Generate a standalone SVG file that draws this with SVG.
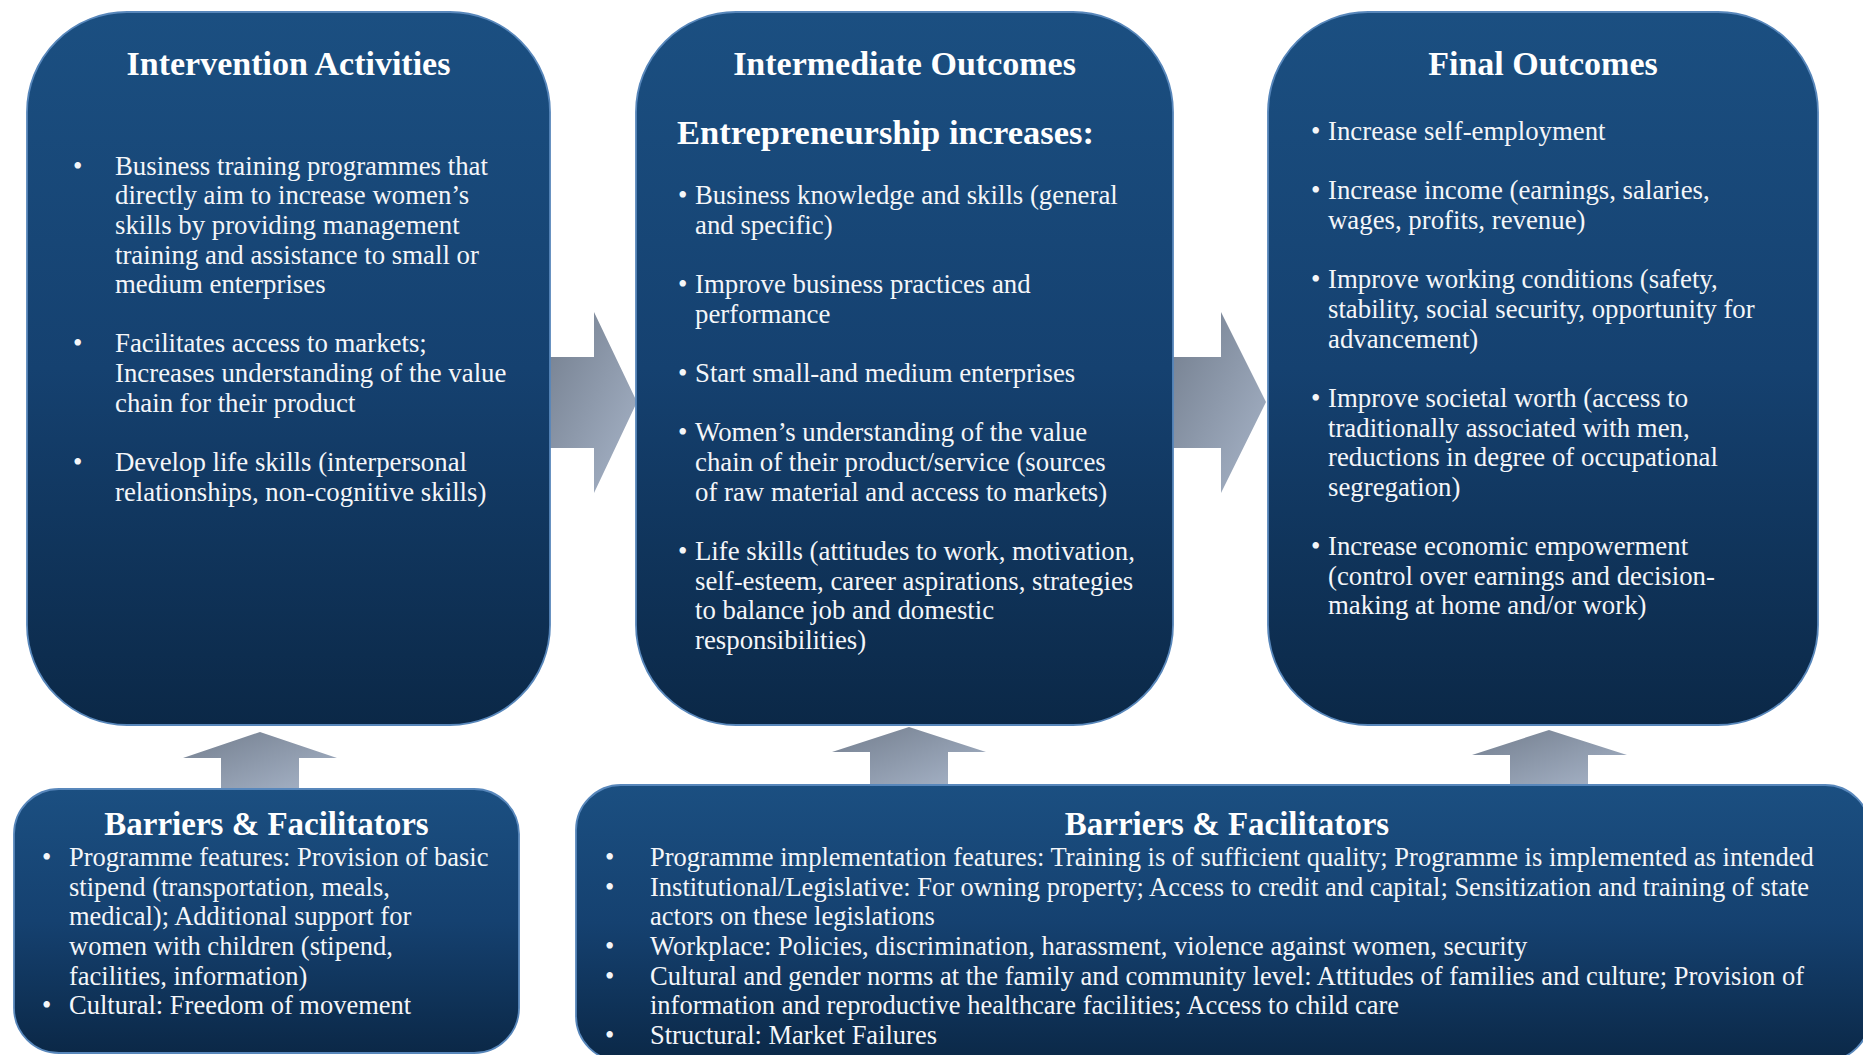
<svg xmlns="http://www.w3.org/2000/svg" width="1863" height="1055" viewBox="0 0 1863 1055">
<defs>
<linearGradient id="boxGrad" x1="0" y1="0" x2="0" y2="1">
<stop offset="0" stop-color="#1b4f81"/>
<stop offset="0.5" stop-color="#154170"/>
<stop offset="1" stop-color="#0b2847"/>
</linearGradient>
<linearGradient id="arrowGrad" x1="0" y1="0" x2="1" y2="1">
<stop offset="0" stop-color="#737e8e"/>
<stop offset="1" stop-color="#a8b5c9"/>
</linearGradient>
<style>
.box{fill:url(#boxGrad);stroke:#5887bb;stroke-width:1.8}
.arrow{fill:url(#arrowGrad)}
.title{font-family:"Liberation Serif","Times New Roman",serif;font-weight:bold;font-size:34px;fill:#ffffff;text-anchor:middle}
.title2{font-family:"Liberation Serif","Times New Roman",serif;font-weight:bold;font-size:33px;fill:#ffffff;text-anchor:middle}
.sub{font-family:"Liberation Serif","Times New Roman",serif;font-weight:bold;font-size:34.5px;fill:#ffffff}
.body{font-family:"Liberation Serif","Times New Roman",serif;font-size:26.8px;fill:#f4f6f9}
.body2{font-family:"Liberation Serif","Times New Roman",serif;font-size:26.5px;fill:#f4f6f9}
</style>
</defs>
<rect width="1863" height="1055" fill="#ffffff"/>

<g id="connectors">
<polygon class="arrow" points="548,357 594,357 594,312 637,402 594,493 594,448 548,448"/>
<polygon class="arrow" points="1173,357 1221,357 1221,312 1266,402 1221,493 1221,448 1173,448"/>
<polygon class="arrow" points="260,732 337,758 299,758 299,790 221,790 221,758 183,758"/>
<polygon class="arrow" points="909,727 986,752 948,752 948,786 870,786 870,752 832,752"/>
<polygon class="arrow" points="1549,730 1627,755 1588,755 1588,786 1510,786 1510,755 1472,755"/>
</g>

<g id="intervention-activities">
<rect class="box" x="27" y="12" width="523" height="713" rx="100" ry="100"/>
<text class="title" x="288.5" y="75">Intervention Activities</text>
<text class="body" x="73" y="174.5">•</text>
<text class="body" x="115" y="174.5">Business training programmes that</text>
<text class="body" x="115" y="204.2">directly aim to increase women’s</text>
<text class="body" x="115" y="233.8">skills by providing management</text>
<text class="body" x="115" y="263.5">training and assistance to small or</text>
<text class="body" x="115" y="293.1">medium enterprises</text>
<text class="body" x="73" y="352.4">•</text>
<text class="body" x="115" y="352.4">Facilitates access to markets;</text>
<text class="body" x="115" y="382.1">Increases understanding of the value</text>
<text class="body" x="115" y="411.7">chain for their product</text>
<text class="body" x="73" y="471">•</text>
<text class="body" x="115" y="471">Develop life skills (interpersonal</text>
<text class="body" x="115" y="500.7">relationships, non-cognitive skills)</text>
</g>

<g id="intermediate-outcomes">
<rect class="box" x="636" y="12" width="537" height="713" rx="100" ry="100"/>
<text class="title" x="904.5" y="75">Intermediate Outcomes</text>
<text class="sub" x="677" y="144">Entrepreneurship increases:</text>
<text class="body" x="678" y="204.2">•</text>
<text class="body" x="695" y="204.2">Business knowledge and skills (general</text>
<text class="body" x="695" y="233.8">and specific)</text>
<text class="body" x="678" y="293.1">•</text>
<text class="body" x="695" y="293.1">Improve business practices and</text>
<text class="body" x="695" y="322.8">performance</text>
<text class="body" x="678" y="382.1">•</text>
<text class="body" x="695" y="382.1">Start small-and medium enterprises</text>
<text class="body" x="678" y="441.4">•</text>
<text class="body" x="695" y="441.4">Women’s understanding of the value</text>
<text class="body" x="695" y="471">chain of their product/service (sources</text>
<text class="body" x="695" y="500.7">of raw material and access to markets)</text>
<text class="body" x="678" y="560">•</text>
<text class="body" x="695" y="560">Life skills (attitudes to work, motivation,</text>
<text class="body" x="695" y="589.6">self-esteem, career aspirations, strategies</text>
<text class="body" x="695" y="619.3">to balance job and domestic</text>
<text class="body" x="695" y="648.9">responsibilities)</text>
</g>

<g id="final-outcomes">
<rect class="box" x="1268" y="12" width="550" height="713" rx="100" ry="100"/>
<text class="title" x="1543" y="75">Final Outcomes</text>
<text class="body" x="1311" y="140">•</text>
<text class="body" x="1328" y="140">Increase self-employment</text>
<text class="body" x="1311" y="199.3">•</text>
<text class="body" x="1328" y="199.3">Increase income (earnings, salaries,</text>
<text class="body" x="1328" y="229">wages, profits, revenue)</text>
<text class="body" x="1311" y="288.3">•</text>
<text class="body" x="1328" y="288.3">Improve working conditions (safety,</text>
<text class="body" x="1328" y="317.9">stability, social security, opportunity for</text>
<text class="body" x="1328" y="347.6">advancement)</text>
<text class="body" x="1311" y="406.9">•</text>
<text class="body" x="1328" y="406.9">Improve societal worth (access to</text>
<text class="body" x="1328" y="436.5">traditionally associated with men,</text>
<text class="body" x="1328" y="466.2">reductions in degree of occupational</text>
<text class="body" x="1328" y="495.8">segregation)</text>
<text class="body" x="1311" y="555.1">•</text>
<text class="body" x="1328" y="555.1">Increase economic empowerment</text>
<text class="body" x="1328" y="584.8">(control over earnings and decision-</text>
<text class="body" x="1328" y="614.4">making at home and/or work)</text>
</g>

<g id="barriers-left">
<rect class="box" x="14" y="789" width="505" height="264" rx="45" ry="45"/>
<text class="title2" x="266.5" y="835">Barriers &amp; Facilitators</text>
<text class="body2" x="42" y="866">•</text>
<text class="body2" x="69" y="866">Programme features: Provision of basic</text>
<text class="body2" x="69" y="895.6">stipend (transportation, meals,</text>
<text class="body2" x="69" y="925.2">medical); Additional support for</text>
<text class="body2" x="69" y="954.9">women with children (stipend,</text>
<text class="body2" x="69" y="984.5">facilities, information)</text>
<text class="body2" x="42" y="1014.1">•</text>
<text class="body2" x="69" y="1014.1">Cultural: Freedom of movement</text>
</g>

<g id="barriers-right">
<rect class="box" x="576" y="785" width="1294" height="276" rx="45" ry="45"/>
<text class="title2" x="1227" y="835">Barriers &amp; Facilitators</text>
<text class="body2" x="605" y="866">•</text>
<text class="body2" x="650" y="866">Programme implementation features: Training is of sufficient quality; Programme is implemented as intended</text>
<text class="body2" x="605" y="895.6">•</text>
<text class="body2" x="650" y="895.6">Institutional/Legislative: For owning property; Access to credit and capital; Sensitization and training of state</text>
<text class="body2" x="650" y="925.2">actors on these legislations</text>
<text class="body2" x="605" y="954.9">•</text>
<text class="body2" x="650" y="954.9">Workplace: Policies, discrimination, harassment, violence against women, security</text>
<text class="body2" x="605" y="984.5">•</text>
<text class="body2" x="650" y="984.5">Cultural and gender norms at the family and community level: Attitudes of families and culture; Provision of</text>
<text class="body2" x="650" y="1014.1">information and reproductive healthcare facilities; Access to child care</text>
<text class="body2" x="605" y="1043.8">•</text>
<text class="body2" x="650" y="1043.8">Structural: Market Failures</text>
</g>
</svg>
